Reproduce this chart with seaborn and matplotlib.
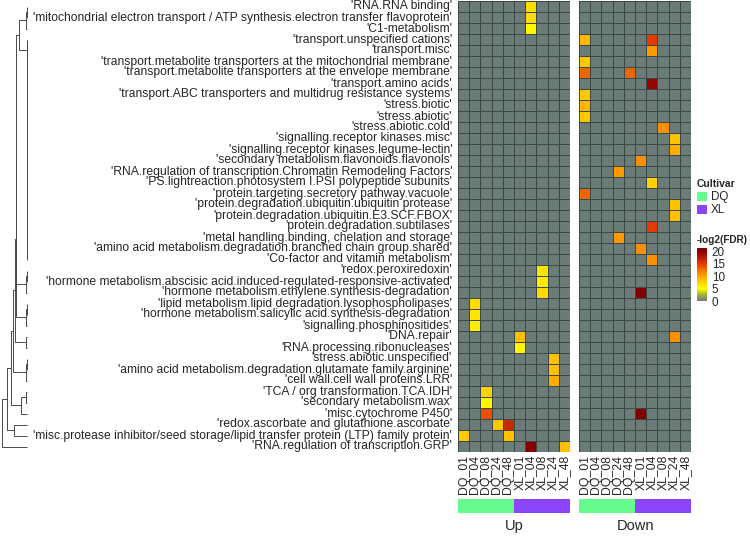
import numpy as np
import pandas as pd
import matplotlib
matplotlib.use('Agg')
import matplotlib.pyplot as plt
import seaborn as sns
from matplotlib.colors import LinearSegmentedColormap, ListedColormap, Normalize
from matplotlib.cm import ScalarMappable
from matplotlib.patches import Rectangle

pathways = [
    "'RNA.RNA binding'",
    "'mitochondrial electron transport / ATP synthesis.electron transfer flavoprotein'",
    "'C1-metabolism'",
    "'transport.unspecified cations'",
    "'transport.misc'",
    "'transport.metabolite transporters at the mitochondrial membrane'",
    "'transport.metabolite transporters at the envelope membrane'",
    "'transport.amino acids'",
    "'transport.ABC transporters and multidrug resistance systems'",
    "'stress.biotic'",
    "'stress.abiotic'",
    "'stress.abiotic.cold'",
    "'signalling.receptor kinases.misc'",
    "'signalling.receptor kinases.legume-lectin'",
    "'secondary metabolism.flavonoids.flavonols'",
    "'RNA.regulation of transcription.Chromatin Remodeling Factors'",
    "'PS.lightreaction.photosystem I.PSI polypeptide subunits'",
    "'protein.targeting.secretory pathway.vacuole'",
    "'protein.degradation.ubiquitin.ubiquitin protease'",
    "'protein.degradation.ubiquitin.E3.SCF.FBOX'",
    "'protein.degradation.subtilases'",
    "'metal handling.binding, chelation and storage'",
    "'amino acid metabolism.degradation.branched chain group.shared'",
    "'Co-factor and vitamin metabolism'",
    "'redox.peroxiredoxin'",
    "'hormone metabolism.abscisic acid.induced-regulated-responsive-activated'",
    "'hormone metabolism.ethylene.synthesis-degradation'",
    "'lipid metabolism.lipid degradation.lysophospholipases'",
    "'hormone metabolism.salicylic acid.synthesis-degradation'",
    "'signalling.phosphinositides'",
    "'DNA.repair'",
    "'RNA.processing.ribonucleases'",
    "'stress.abiotic.unspecified'",
    "'amino acid metabolism.degradation.glutamate family.arginine'",
    "'cell wall.cell wall proteins.LRR'",
    "'TCA / org transformation.TCA.IDH'",
    "'secondary metabolism.wax'",
    "'misc.cytochrome P450'",
    "'redox.ascorbate and glutathione.ascorbate'",
    "'misc.protease inhibitor/seed storage/lipid transfer protein (LTP) family protein'",
    "'RNA.regulation of transcription.GRP'",
]
samples = ['DQ_01', 'DQ_04', 'DQ_08', 'DQ_24', 'DQ_48',
           'XL_01', 'XL_04', 'XL_08', 'XL_24', 'XL_48']

# enriched cells: (row, sample, -log2 FDR); everything else is 0
up_hits = [
    (0, 'XL_04', 7), (1, 'XL_04', 7), (2, 'XL_04', 5.5),
    (24, 'XL_08', 6.5), (25, 'XL_08', 6), (26, 'XL_08', 7),
    (27, 'DQ_04', 7), (28, 'DQ_04', 6.5), (29, 'DQ_04', 6),
    (30, 'XL_01', 8.5), (31, 'XL_01', 5.5),
    (32, 'XL_24', 8.5), (33, 'XL_24', 8.5), (34, 'XL_24', 9.5),
    (35, 'DQ_08', 7.5), (36, 'DQ_08', 5.5), (37, 'DQ_08', 14),
    (38, 'DQ_24', 8), (38, 'DQ_48', 16.5),
    (39, 'DQ_01', 8), (39, 'DQ_48', 8.5),
    (40, 'XL_04', 20.5), (40, 'XL_48', 8.5),
]
down_hits = [
    (3, 'DQ_01', 9), (3, 'XL_04', 15), (4, 'XL_04', 10.5),
    (5, 'DQ_01', 8), (6, 'DQ_01', 13), (6, 'DQ_48', 13),
    (7, 'XL_04', 19.5), (8, 'DQ_01', 8), (9, 'DQ_01', 9), (10, 'DQ_01', 8),
    (11, 'XL_08', 11), (12, 'XL_24', 8.5), (13, 'XL_24', 9.5),
    (14, 'XL_01', 11), (15, 'DQ_24', 10.5), (16, 'XL_04', 7.5),
    (17, 'DQ_01', 13), (18, 'XL_24', 8.5), (19, 'XL_24', 8.5),
    (20, 'XL_04', 15), (21, 'DQ_24', 10.5), (22, 'XL_01', 11),
    (23, 'XL_04', 11), (26, 'XL_01', 21), (30, 'XL_24', 11),
    (37, 'XL_01', 21),
]

cultivar_colors = {'DQ': '#66FB8D', 'XL': '#8B45FB'}
scale_values = [0, 2.5, 5, 10, 15, 20, 21.5]
scale_colors = ['#6B7B78', '#A6B23C', '#FFFF00', '#FFA500', '#E23B00', '#8B0000', '#800000']

# row dendrogram (clustered on the Up values): (left, right, height)
flat_group = 23
for r in range(22, 2, -1):
    flat_group = (r, flat_group, 0)
top_group = (((0, 1, 0.3), 2, 0.8), flat_group, 8)
node = (top_group, ((24, 25, 0.3), 26, 0.6), 11)
node = (node, ((27, 28, 0.3), 29, 0.6), 11.5)
node = (node, (30, 31, 0.8), 12)
node = (node, ((32, 33, 0.3), 34, 0.8), 14)
node = (node, ((35, 36, 0.8), 37, 6), 16)
node = (node, (38, 39, 13), 20)
row_tree = (node, 40, 25)


def to_frame(hits):
    df = pd.DataFrame(0.0, index=pathways, columns=samples)
    for r, s, v in hits:
        df.loc[pathways[r], s] = v
    return df


def draw_tree(ax, node):
    if isinstance(node, int):
        return node + 0.5, 0
    left, right, h = node
    yl, hl = draw_tree(ax, left)
    yr, hr = draw_tree(ax, right)
    ax.plot([hl, h, h, hr], [yl, yl, yr, yr], color='#4a4a4a', lw=0.7,
            solid_capstyle='butt')
    return (yl + yr) / 2, h


sns.set_theme(style='white')
plt.rcParams['font.family'] = ['Liberation Sans', 'DejaVu Sans']

W, H = 750, 536
fig = plt.figure(figsize=(W / 100, H / 100), dpi=100)


def px_axes(x0, y0, x1, y1):
    return fig.add_axes([x0 / W, 1 - y1 / H, (x1 - x0) / W, (y1 - y0) / H])


cmap = LinearSegmentedColormap.from_list(
    'fdr', [(v / scale_values[-1], c) for v, c in zip(scale_values, scale_colors)])
norm = Normalize(vmin=0, vmax=scale_values[-1])

up_df = to_frame(up_hits)
down_df = to_frame(down_hits)

ax_up = px_axes(458, 1, 570, 452)
ax_down = px_axes(579, 1, 691, 452)
for ax, df, show_rows in [(ax_up, up_df, True), (ax_down, down_df, False)]:
    sns.heatmap(df, ax=ax, cmap=cmap, norm=norm, cbar=False,
                linewidths=0.6, linecolor='#3A4846',
                xticklabels=samples, yticklabels=pathways if show_rows else False)
    ax.tick_params(axis='x', length=0, pad=2, labelsize=8.8, rotation=90)
    if show_rows:
        ax.tick_params(axis='y', length=0, pad=4.3, labelsize=8.75, rotation=0)
    ax.set_xlabel('')
    ax.set_ylabel('')

# cultivar annotation bars
cult = [s.split('_')[0] for s in samples]
codes = np.array([[0 if c == 'DQ' else 1 for c in cult]])
cult_cmap = ListedColormap([cultivar_colors['DQ'], cultivar_colors['XL']])
for x0, x1, title in [(458, 570, 'Up'), (579, 691, 'Down')]:
    ax_a = px_axes(x0, 499, x1, 513)
    sns.heatmap(codes, ax=ax_a, cmap=cult_cmap, vmin=0, vmax=1, cbar=False,
                xticklabels=False, yticklabels=False)
    fig.text((x0 + x1) / 2 / W, 1 - 526 / H, title, ha='center', va='center',
             fontsize=10.5)

# dendrogram
ax_d = px_axes(0, 1, 28, 452)
draw_tree(ax_d, row_tree)
ax_d.set_xlim(27, -1)
ax_d.set_ylim(len(pathways), 0)
ax_d.axis('off')

# legends
fig.text(697 / W, 1 - 184 / H, 'Cultivar', fontsize=7.4, fontweight='bold',
         ha='left', va='center')
for i, (name, col) in enumerate(cultivar_colors.items()):
    y = 192 + i * 13
    fig.add_artist(Rectangle((697 / W, 1 - (y + 9) / H), 10 / W, 9 / H,
                             transform=fig.transFigure, facecolor=col,
                             edgecolor='none'))
    fig.text(711 / W, 1 - (y + 4.5) / H, name, fontsize=8.4, ha='left', va='center')

fig.text(696.5 / W, 1 - 240 / H, '-log2(FDR)', fontsize=7.2, fontweight='bold',
         ha='left', va='center')
cax = px_axes(697, 247.5, 707, 301)
cb = fig.colorbar(ScalarMappable(norm=norm, cmap=cmap), cax=cax,
                  ticks=[0, 5, 10, 15, 20])
cb.outline.set_visible(False)
cax.tick_params(axis='y', direction='in', length=2, width=0.8, color='white',
                left=True, right=True, labelsize=8.4, pad=3.5)

fig.savefig('out.png', dpi=100)
